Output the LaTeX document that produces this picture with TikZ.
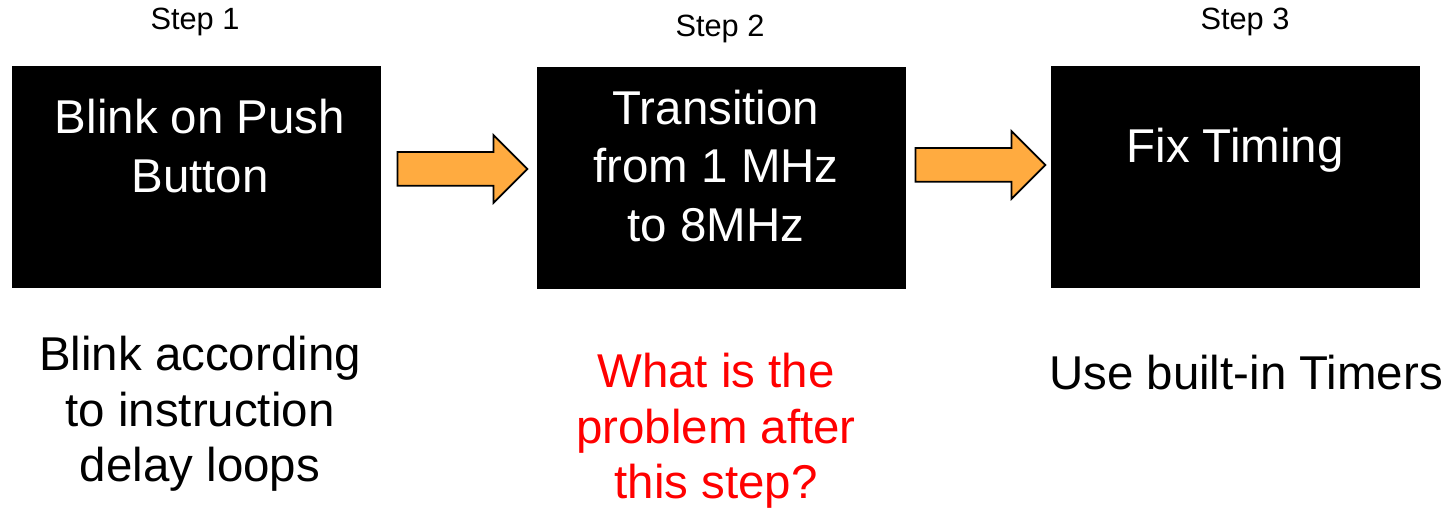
\documentclass[tikz,border=0pt]{standalone}
\usepackage{xcolor}
\usepackage{fontspec}
\setmainfont{Liberation Sans}
\usetikzlibrary{shapes.arrows}
\definecolor{arroworange}{HTML}{FFAB40}
\definecolor{askred}{HTML}{FF0000}

\begin{document}
\begin{tikzpicture}[
    every node/.style={align=center},
    box/.style={
        rectangle,
        fill=black,
        draw=black,
        minimum width=7.36cm,
        minimum height=4.42cm,
        inner sep=0pt
    },
    boxtext/.style={text=white, font=\fontsize{27}{33.5}\selectfont},
    steplabel/.style={font=\fontsize{17.5}{20}\selectfont},
    note/.style={font=\fontsize{27}{31.5}\selectfont},
    nextarrow/.style={
        single arrow,
        draw=black,
        line width=1pt,
        fill=arroworange,
        minimum height=2.6cm,
        inner xsep=0pt,
        inner ysep=0.32cm,
        single arrow head extend=0.34cm,
        single arrow tip angle=90
    },
]
\useasboundingbox (0,0) rectangle (29.1,10.2);

% Step labels
\node[steplabel] (s1) at (3.9,9.76)  {Step 1};
\node[steplabel] (s2) at (14.4,9.62) {Step 2};
\node[steplabel] (s3) at (24.9,9.76) {Step 3};

% Boxes
\node[box] (blink)  at (3.93,6.66)  {};
\node[box] (trans)  at (14.42,6.64) {};
\node[box] (timing) at (24.71,6.66) {};

% Box texts
\node[boxtext] (blinktxt)  at (4.0,7.28)   {Blink on Push\\Button};
\node[boxtext] (transtxt)  at (14.32,6.88) {Transition\\from 1 MHz\\to 8MHz};
\node[boxtext] (timingtxt) at (24.7,7.2)   {Fix Timing};

% Arrows between boxes
\node[nextarrow] (arrA) at (9.08,6.82) {};
\node[nextarrow] (arrB) at (19.44,6.9) {};

% Notes below
\node[note] (blinknote)  at (4.0,1.92)   {Blink according\\to instruction\\delay loops};
\node[note, text=askred] (transnote) at (14.32,1.58) {What is the\\problem after\\this step?};
\node[note] (timingnote) at (24.92,2.74) {Use built-in Timers};

\end{tikzpicture}
\end{document}
